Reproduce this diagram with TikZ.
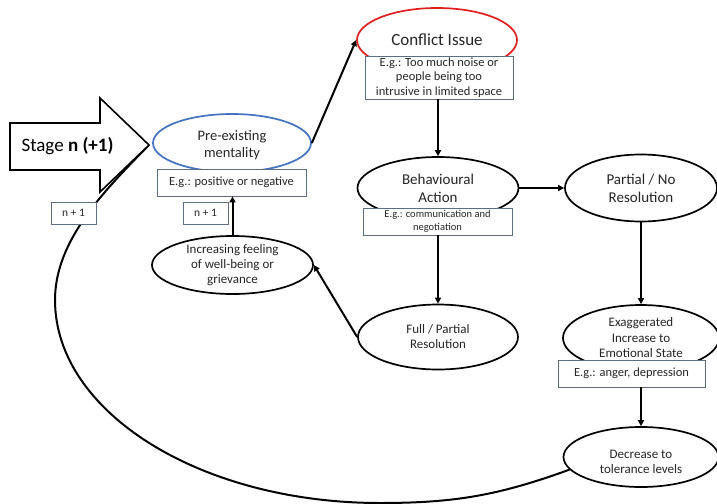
\documentclass[tikz,border=0pt]{standalone}
\usepackage{fontspec}
\setmainfont{Carlito}
\usepackage{xcolor}
\definecolor{prebl}{RGB}{68,114,196}
\definecolor{confred}{RGB}{226,30,30}
\definecolor{noteedge}{RGB}{90,110,135}
\definecolor{inkgrey}{RGB}{38,38,38}
\usetikzlibrary{arrows.meta,shapes.geometric,calc}
\tikzset{
  oval/.style={ellipse,draw=black,line width=1.7pt,fill=white,align=center,inner xsep=0pt,inner ysep=-4pt,text=inkgrey,font=\fontsize{13}{15}\selectfont},
  note/.style={draw=noteedge,line width=0.8pt,fill=white,align=center,inner sep=0pt,text=inkgrey,font=\fontsize{12.5}{14.5}\selectfont},
  tag/.style={note,minimum width=45pt,minimum height=22pt,font=\fontsize{11.5}{13}\selectfont},
  arr/.style={-{Triangle[length=6pt,width=6pt]},line width=2pt},
  backline/.style={line width=2pt},
}

\begin{document}
\begin{tikzpicture}[x=1pt,y=1pt]
    \useasboundingbox (0,0) rectangle (717,-503);

    % the stages
    \node[oval,draw=prebl,minimum width=158pt,minimum height=58pt,font=\fontsize{14.5}{17}\selectfont] (pre) at (232,-143) {\\[-2pt]Pre-existing\\mentality};
    \node[oval,draw=confred,minimum width=160pt,minimum height=64pt,font=\fontsize{17}{20}\selectfont] (conf) at (437,-40) {Conflict Issue};
    \node[oval,minimum width=161pt,minimum height=62pt,font=\fontsize{15}{18}\selectfont] (beh) at (438,-188) {Behavioural\\Action};
    \node[oval,minimum width=152pt,minimum height=67pt,font=\fontsize{15}{18}\selectfont] (part) at (641,-188) {Partial / No\\Resolution};
    \node[oval,minimum width=160pt,minimum height=65pt] (full) at (438,-337) {Full / Partial\\Resolution};
    \node[oval,minimum width=161pt,minimum height=58pt] (inc) at (232.5,-265) {Increasing feeling\\of well-being or\\grievance};
    \node[oval,minimum width=156pt,minimum height=66pt,font=\fontsize{13}{15.5}\selectfont] (exag) at (641,-338) {Exaggerated\\Increase to\\Emotional State};
    \node[oval,minimum width=155pt,minimum height=60pt] (dec) at (641,-457) {\\[4pt]Decrease to\\tolerance levels};

    % loop back to the start
    \coordinate (tip) at (149,-145);
    \coordinate (bot) at (380,-503);
    \coordinate (lft) at (55,-300);
    \draw[backline] (dec.190) to[out=200,in=0] (bot)
        .. controls (200,-503) and (55,-412) .. (lft)
        .. controls (55,-240) and (105,-190) .. (tip);

    \draw[line width=1.6pt,fill=white] (10,-123) -- (100,-123) -- (100,-98) -- (tip) -- (100,-192) -- (100,-170) -- (10,-170) -- cycle;
    \node[anchor=west,text=black,font=\fontsize{19}{22}\selectfont] (stage) at (18,-146) {Stage \textbf{n (+1)}};

    % examples
    \node[note,minimum width=149pt,minimum height=27pt] (prebox) at (231.5,-182.5) {E.g.: positive or negative};
    \node[note,minimum width=148pt,minimum height=43pt] (confbox) at (439,-77.5) {E.g.: Too much noise or\\people being too\\intrusive in limited space};
    \node[note,minimum width=149pt,minimum height=27pt,font=\fontsize{10.5}{12.5}\selectfont] (behbox) at (437.5,-221.5) {E.g.: communication and\\negotiation};
    \node[note,minimum width=147pt,minimum height=27pt] (exagbox) at (631.5,-373.5) {E.g.: anger, depression};
    \node[tag] (nleft) at (73.5,-213) {n + 1};
    \node[tag] (nmid) at (205.5,-213) {n + 1};

    \draw[arr] (pre.east) -- (conf.west);
    \draw[arr] (beh.north |- confbox.south) -- (beh.north);
    \draw[arr] (behbox.south -| full.north) -- (full.north);
    \draw[arr] (beh.east) -- (part.west);
    \draw[arr] (part.south) -- (exag.north);
    \draw[arr] (dec.north |- exagbox.south) -- (dec.north);
    \draw[arr] (full.west) -- (inc.east);
    \draw[arr] (inc.north) -- (inc.north |- prebox.south);
\end{tikzpicture}
\end{document}
